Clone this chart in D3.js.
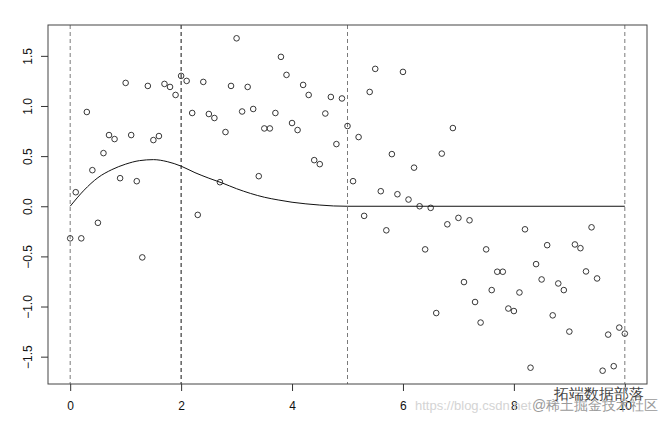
<!DOCTYPE html>
<html>
<head>
<meta charset="utf-8">
<script src="https://cdn.jsdelivr.net/npm/d3@7"></script>
<style>
  body { margin: 0; background: #fff; }
  text { font-family: "Liberation Sans", Arial, sans-serif; }
</style>
</head>
<body>
<script>
// observed points
var xs = [0, 0.1, 0.2, 0.3, 0.4, 0.5, 0.6, 0.7, 0.8, 0.9,
          1, 1.1, 1.2, 1.3, 1.4, 1.5, 1.6, 1.7, 1.8, 1.9,
          2, 2.1, 2.2, 2.3, 2.4, 2.5, 2.6, 2.7, 2.8, 2.9,
          3, 3.1, 3.2, 3.3, 3.4, 3.5, 3.6, 3.7, 3.8, 3.9,
          4, 4.1, 4.2, 4.3, 4.4, 4.5, 4.6, 4.7, 4.8, 4.9,
          5, 5.1, 5.2, 5.3, 5.4, 5.5, 5.6, 5.7, 5.8, 5.9,
          6, 6.1, 6.2, 6.3, 6.4, 6.5, 6.6, 6.7, 6.8, 6.9,
          7, 7.1, 7.2, 7.3, 7.4, 7.5, 7.6, 7.7, 7.8, 7.9,
          8, 8.1, 8.2, 8.3, 8.4, 8.5, 8.6, 8.7, 8.8, 8.9,
          9, 9.1, 9.2, 9.3, 9.4, 9.5, 9.6, 9.7, 9.8, 9.9, 10];
var ys = [-0.32, 0.14, -0.32, 0.94, 0.36, -0.165, 0.53, 0.71, 0.67, 0.28,
          1.23, 0.71, 0.25, -0.51, 1.20, 0.66, 0.70, 1.22, 1.19, 1.11,
          1.30, 1.25, 0.93, -0.086, 1.24, 0.92, 0.88, 0.24, 0.74, 1.20,
          1.675, 0.945, 1.19, 0.97, 0.30, 0.776, 0.776, 0.93, 1.49, 1.31,
          0.83, 0.76, 1.21, 1.11, 0.46, 0.42, 0.925, 1.09, 0.62, 1.075,
          0.80, 0.25, 0.69, -0.096, 1.14, 1.37, 0.15, -0.24, 0.52, 0.12,
          1.34, 0.067, 0.385, 0.0, -0.43, -0.016, -1.065, 0.525, -0.18, 0.78,
          -0.116, -0.756, -0.14, -0.955, -1.16, -0.43, -0.836, -0.653, -0.653, -1.02,
          -1.045, -0.86, -0.23, -1.61, -0.577, -0.73, -0.388, -1.088, -0.77, -0.836,
          -1.25, -0.381, -0.418, -0.65, -0.21, -0.72, -1.64, -1.28, -1.595, -1.21, -1.27];

// fitted curve
var curveX = [0, 0.25, 0.5, 0.75, 1, 1.25, 1.5, 1.75, 2, 2.25, 2.5, 2.75,
              3, 3.25, 3.5, 3.75, 4, 4.25, 4.5, 4.75, 5, 10];
var curveY = [0, 0.16, 0.285, 0.365, 0.42, 0.455, 0.465, 0.445, 0.40, 0.335, 0.28, 0.23,
              0.175, 0.128, 0.09, 0.063, 0.04, 0.024, 0.012, 0.003, 0, 0];

var knots = [0, 2, 5, 10];
var knotColors = ['#7a7a7a', '#111', '#7a7a7a', '#7a7a7a'];

var xTicks = [0, 2, 4, 6, 8, 10];
var yTicks = [-1.5, -1.0, -0.5, 0.0, 0.5, 1.0, 1.5];

var margin = {top: 25, right: 22, bottom: 39, left: 48},
    width = 669 - margin.left - margin.right,
    height = 423 - margin.top - margin.bottom;

// R style 4% padding around data range
function padded(ext) {
  var p = (ext[1] - ext[0]) * 0.04;
  return [ext[0] - p, ext[1] + p];
}

var x = d3.scaleLinear()
    .domain(padded(d3.extent(xs)))
    .range([0, width]);

var y = d3.scaleLinear()
    .domain(padded(d3.extent(ys)))
    .range([height, 0]);

var svg = d3.select('body').append('svg')
    .attr('width', 669)
    .attr('height', 423)
  .append('g')
    .attr('transform', 'translate(' + margin.left + ',' + margin.top + ')');

// knot lines
svg.selectAll('.knot')
    .data(knots)
  .enter().append('line')
    .attr('class', 'knot')
    .attr('x1', function(d) { return x(d); })
    .attr('x2', function(d) { return x(d); })
    .attr('y1', 0)
    .attr('y2', height)
    .attr('stroke', function(d, i) { return knotColors[i]; })
    .attr('stroke-width', 1)
    .attr('stroke-dasharray', '4,3');

// points
svg.selectAll('.pt')
    .data(xs)
  .enter().append('circle')
    .attr('class', 'pt')
    .attr('cx', function(d) { return x(d); })
    .attr('cy', function(d, i) { return y(ys[i]); })
    .attr('r', 2.8)
    .attr('fill', 'none')
    .attr('stroke', '#222')
    .attr('stroke-width', 0.9);

// curve
var line = d3.line()
    .x(function(d) { return x(d[0]); })
    .y(function(d) { return y(d[1]); })
    .curve(d3.curveMonotoneX);

svg.append('path')
    .datum(curveX.map(function(d, i) { return [d, curveY[i]]; }))
    .attr('d', line)
    .attr('fill', 'none')
    .attr('stroke', '#111')
    .attr('stroke-width', 1);

// box
svg.append('rect')
    .attr('x', 0)
    .attr('y', 0)
    .attr('width', width)
    .attr('height', height)
    .attr('fill', 'none')
    .attr('stroke', '#444')
    .attr('stroke-width', 1);

// axes
var xAxis = d3.axisBottom(x).tickValues(xTicks).tickSize(7).tickPadding(10)
    .tickFormat(d3.format('d'));
var yAxis = d3.axisLeft(y).tickValues(yTicks).tickSize(7)
    .tickFormat(d3.format('.1f'));

var gx = svg.append('g')
    .attr('transform', 'translate(0,' + height + ')')
    .call(xAxis);
gx.select('.domain').remove();
gx.selectAll('line').attr('stroke', '#333');
gx.selectAll('text').attr('font-size', '12px').attr('fill', '#111')
    .attr('font-family', '"Liberation Sans", Arial, sans-serif');

var gy = svg.append('g').call(yAxis);
gy.select('.domain').remove();
gy.selectAll('line').attr('stroke', '#333');
gy.selectAll('text')
    .attr('font-size', '12px').attr('fill', '#111')
    .attr('font-family', '"Liberation Sans", Arial, sans-serif')
    .attr('text-anchor', 'middle')
    .attr('x', null)
    .attr('transform', 'translate(-20,0) rotate(-90)')
    .attr('dy', '0.35em');

// watermark
var wm = d3.select('svg').append('g');
wm.append('text')
    .attr('x', 415).attr('y', 410)
    .attr('font-size', '13px').attr('fill', '#d4d4d4')
    .text('https://blog.csdn.net');
wm.append('text')
    .attr('x', 532).attr('y', 410)
    .attr('font-size', '14px').attr('fill', '#9a9a9a')
    .attr('font-family', '"Noto Sans CJK SC", sans-serif')
    .text('@稀土掘金技术社区');
wm.append('text')
    .attr('x', 554).attr('y', 399)
    .attr('font-size', '15px').attr('fill', '#444')
    .attr('font-family', '"Noto Sans CJK SC", sans-serif')
    .attr('stroke', '#fff').attr('stroke-width', 0.6).attr('paint-order', 'stroke')
    .text('拓端数据部落');
</script>
</body>
</html>
